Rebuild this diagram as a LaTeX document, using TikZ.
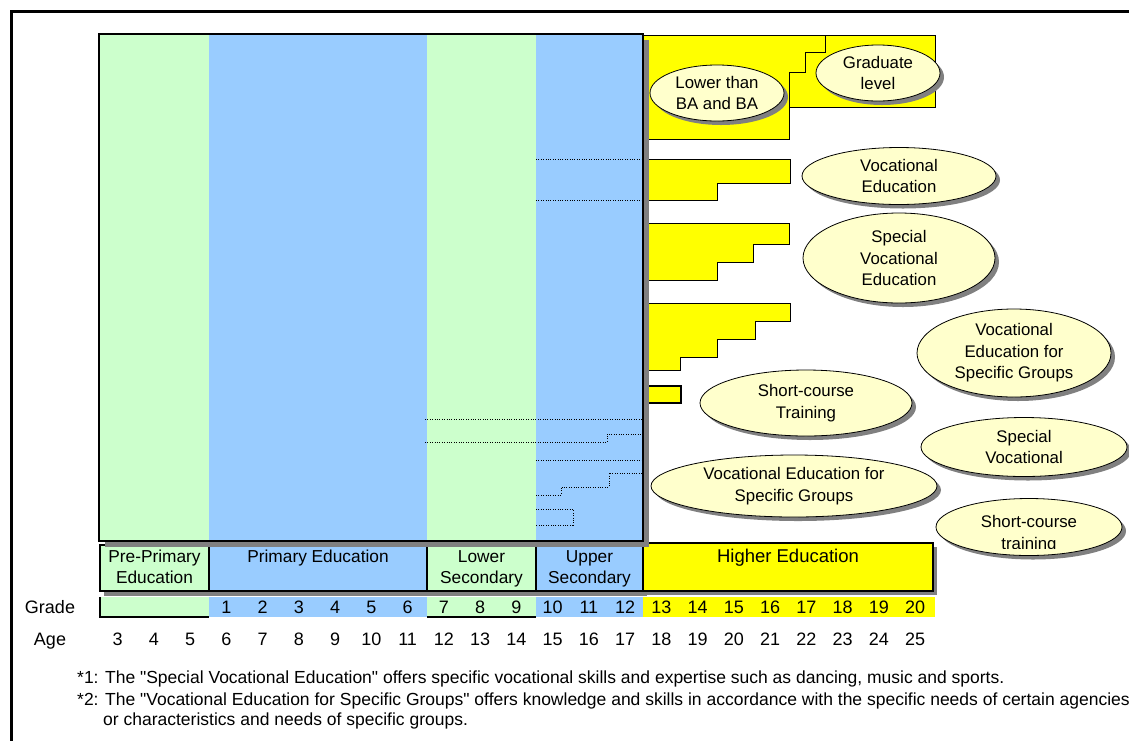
\documentclass[tikz,border=0pt]{standalone}
\usepackage{fontspec}
\setmainfont{Liberation Sans}[Ligatures=TeXOff]
\usetikzlibrary{shapes.geometric,shadows}

\definecolor{kgreen}{HTML}{CCFFCC}
\definecolor{kblue}{HTML}{99CCFF}
\definecolor{kyellow}{HTML}{FFFF00}
\definecolor{kcream}{HTML}{FFFFCC}
\definecolor{kshade}{HTML}{808080}

\tikzset{
  band/.style={draw, line width=1.2pt},
  lab/.style={anchor=north, align=center, inner sep=0pt, font=\fontsize{17.3}{21}\selectfont},
  num/.style={anchor=base, inner sep=0pt, font=\fontsize{18}{18}\selectfont},
  ovaltext/.style={align=center, inner sep=0pt, font=\fontsize{16.8}{21.5}\selectfont},
  oval/.style={ellipse, draw, line width=0.8pt, fill=kcream, ovaltext,
    drop shadow={shadow xshift=4pt, shadow yshift=-4pt, fill=kshade, opacity=1}},
  stairs/.style={draw, line width=1pt, fill=kyellow},
  route/.style={line width=0.9pt, dash pattern=on 1pt off 1.4pt},
  note/.style={anchor=base west, inner sep=0pt, font=\fontsize{17.5}{21}\selectfont},
}

\begin{document}
\begin{tikzpicture}[x=1pt,y=-1pt]
\clip (0,0) rectangle (1129,740);
% frame round the whole chart
\draw[line width=3pt] (11,760) -- (11,11) -- (1150,11);

% higher education and training steps
\draw[stairs] (640,35) -- (825,35) -- (825,52) -- (805,52) -- (805,72) -- (789,72) -- (789,139) -- (640,139) -- cycle;
\draw[stairs] (825,35) -- (935,35) -- (935,107) -- (789,107) -- (789,72) -- (805,72) -- (805,52) -- (825,52) -- cycle;
\draw[stairs] (640,159) -- (790,159) -- (790,183) -- (717,183) -- (717,200) -- (640,200) -- cycle;
\draw[stairs] (640,223) -- (789,223) -- (789,244) -- (753,244) -- (753,262) -- (717,262) -- (717,280) -- (640,280) -- cycle;
\draw[stairs] (640,303) -- (790,303) -- (790,321) -- (755,321) -- (755,339) -- (717,339) -- (717,357) -- (680,357) -- (680,370) -- (640,370) -- cycle;
\draw[stairs, line width=2pt] (640,386) rectangle (681,403);

% stage boxes
\fill[kshade] (104,549) rectangle (647,596);
\fill[kshade] (647,547) rectangle (937,595);
\draw[band, fill=kgreen] (100,545) rectangle (209,591);
\draw[band, fill=kblue] (209,545) rectangle (427,591);
\draw[band, fill=kgreen] (427,545) rectangle (536,591);
\draw[band, fill=kblue] (536,545) rectangle (643,591);
\draw[band, fill=kyellow] (643,543) rectangle (933,591);

% school years panel
\fill[kshade] (105,40) rectangle (649,547);
\fill[kgreen] (99,34) rectangle (209,541);
\fill[kblue] (209,34) rectangle (427,541);
\fill[kgreen] (427,34) rectangle (536,541);
\fill[kblue] (536,34) rectangle (643,541);
\draw[line width=1.2pt] (99,34) rectangle (643,541);

% dotted paths inside the panel
\draw[route] (536,159) -- (643,159);
\draw[route] (536,200) -- (643,200);
\draw[route] (425,419) -- (643,419);
\draw[route] (425,442) -- (607,442) -- (607,434) -- (643,434);
\draw[route] (536,460) -- (643,460);
\draw[route] (536,495) -- (561,495) -- (561,487) -- (609,487) -- (609,473) -- (643,473);
\draw[route] (536,509) -- (573,509) -- (573,525) -- (536,525);

% grade strip
\fill[kgreen] (100,597) rectangle (209,617);
\fill[kblue] (209,597) rectangle (427,617);
\fill[kgreen] (427,597) rectangle (536,617);
\fill[kblue] (536,597) rectangle (643,617);
\fill[kyellow] (643,597) rectangle (935,617);
\draw[line width=2pt] (100,597) -- (100,617) -- (209,617);
\draw[line width=2pt] (427,617) -- (536,617);

\node[lab] (prelab) at (154.5,550) {Pre-Primary\\Education};
\node[lab] (prilab) at (318,550) {Primary Education};
\node[lab] (lowlab) at (481.5,550) {Lower\\Secondary};
\node[lab] (upplab) at (589.5,550) {Upper\\Secondary};
\node[lab, font=\fontsize{18.5}{22}\selectfont] (higlab) at (788,549) {Higher Education};

\node[num] (gradelab) at (50,613) {Grade};
\node[num] (agelab) at (50,645) {Age};
\foreach \g in {1,...,20}
  \node[num] (g\g) at ({117.6+36.25*(\g+2)},613) {\g};
\foreach \a in {3,...,25}
  \node[num] (a\a) at ({117.6+36.25*(\a-3)},645) {\a};

% bubbles
\node[oval, minimum width=134pt, minimum height=56pt] (lowba) at (717,93) {Lower than\\BA and BA};
\node[oval, minimum width=124pt, minimum height=56pt] (grad) at (878,73) {Graduate\\level};
\node[oval, minimum width=194pt, minimum height=57pt] (voc) at (899,176) {Vocational\\Education};
\node[oval, minimum width=192pt, minimum height=90pt] (spvoc) at (899,258) {Special\\Vocational\\Education};
\node[oval, minimum width=194pt, minimum height=88pt] (vocgrp) at (1014,353) {Vocational\\Education for\\Specific Groups};
\node[oval, minimum width=212pt, minimum height=66pt] (shortc) at (806,403) {Short-course\\Training};
\node[oval, minimum width=206pt, minimum height=59pt] (spvocb) at (1024,447) {Special\\Vocational};
\node[oval, minimum width=286pt, minimum height=62pt] (vocgrpb) at (794,486) {Vocational Education for\\Specific Groups};
\node[oval, minimum width=186pt, minimum height=57pt] (shortb) at (1029,527) {};
\begin{scope}
  \clip (930,495) rectangle (1129,548);
  \node[ovaltext] (shortbt) at (1029,534) {Short-course\\training};
\end{scope}

% notes
\node[note] (fn1) at (77,683) {*1: The "Special Vocational Education" offers specific vocational skills and expertise such as dancing, music and sports.};
\node[note] (fn2) at (77,705) {*2: The "Vocational Education for Specific Groups" offers knowledge and skills in accordance with the specific needs of certain agencies};
\node[note] (fn3) at (103,725) {or characteristics and needs of specific groups.};
\end{tikzpicture}
\end{document}
